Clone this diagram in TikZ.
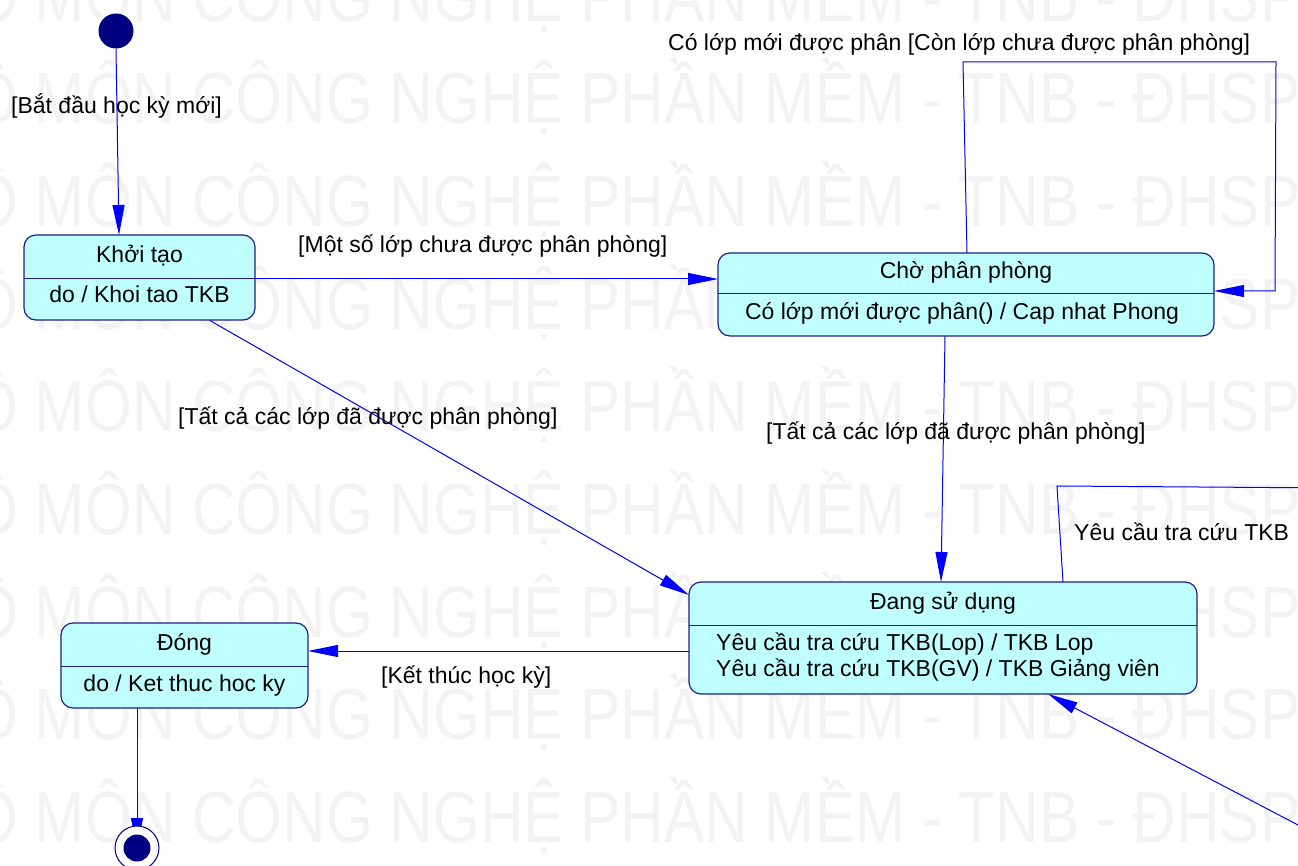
\documentclass[tikz,border=0pt]{standalone}
\usepackage{fontspec}
\setmainfont{Liberation Sans}
\usetikzlibrary{arrows.meta,calc}
\definecolor{boxfill}{RGB}{192,255,255}
\definecolor{boxline}{RGB}{30,30,140}
\definecolor{connc}{RGB}{0,0,255}
\definecolor{navyc}{RGB}{0,0,128}
\definecolor{wmark}{RGB}{243,243,243}
\pgfdeclarelayer{wm}
\pgfdeclarelayer{edges}
\pgfsetlayers{wm,edges,main}
\tikzset{
  txt/.style={inner sep=0pt, font=\fontsize{23}{27}\selectfont, text=black},
  wmtext/.style={inner sep=0pt, anchor=base west, font=\fontsize{72.6}{80}\selectfont, text=wmark},
  statebox/.style={draw=boxline, fill=boxfill, rounded corners=12pt, line width=1.2pt, inner sep=0pt, outer sep=0pt},
  divline/.style={draw=boxline, line width=1pt},
  trans/.style={draw=connc, line width=1pt, -{Triangle[length=30pt,width=12pt]}}
}
\begin{document}
\begin{tikzpicture}[x=1pt,y=-1pt]
\useasboundingbox (0,0) rectangle (1298,866);
% watermark
\begin{pgfonlayer}{wm}
\foreach \k in {0,...,8}{
  \node[wmtext] (wm\k) at (-69,{21.4+102.6*\k}) {\scalebox{0.83}[1]{BỘ MÔN CÔNG NGHỆ PHẦN MỀM - TNB - ĐHSP}};
}
\end{pgfonlayer}

% states
\node[circle, fill=navyc, minimum size=35pt, inner sep=0pt] (init) at (116,31) {};

\node[statebox, minimum width=231pt, minimum height=85pt] (khoi) at (139.5,277.5) {};
\draw[divline] ([yshift=-44pt]khoi.north west) -- ([yshift=-44pt]khoi.north east);
\node[txt, anchor=base] (khoiT) at (139.5,263) {Khởi tạo};
\node[txt, anchor=base] (khoiB) at (139.5,303) {do / Khoi tao TKB};

\node[statebox, minimum width=496pt, minimum height=83pt] (cho) at (966,294.5) {};
\draw[divline] ([yshift=-41pt]cho.north west) -- ([yshift=-41pt]cho.north east);
\node[txt, anchor=base] (choT) at (966,279) {Chờ phân phòng};
\node[txt, anchor=base] (choB) at (962,320) {Có lớp mới được phân() / Cap nhat Phong};

\node[statebox, minimum width=508pt, minimum height=112pt] (dang) at (943,638) {};
\draw[divline] ([yshift=-43pt]dang.north west) -- ([yshift=-43pt]dang.north east);
\node[txt, anchor=base] (dangT) at (943,609) {Đang sử dụng};
\node[txt, anchor=base west] (dangB1) at (716,650) {Yêu cầu tra cứu TKB(Lop) / TKB Lop};
\node[txt, anchor=base west] (dangB2) at (716,676) {Yêu cầu tra cứu TKB(GV) / TKB Giảng viên};

\node[statebox, minimum width=247pt, minimum height=85pt] (dong) at (184.5,665.5) {};
\draw[divline] ([yshift=-43pt]dong.north west) -- ([yshift=-43pt]dong.north east);
\node[txt, anchor=base] (dongT) at (184.5,650) {Đóng};
\node[txt, anchor=base] (dongB) at (184.5,691) {do / Ket thuc hoc ky};

\node[circle, draw=navyc, fill=white, line width=1pt, minimum size=44pt, inner sep=0pt] (fin) at (137,848) {};
\node[circle, fill=navyc, minimum size=27pt, inner sep=0pt] (finIn) at (fin.center) {};

% labels
\node[txt, anchor=base west] (l1) at (11,114) {[Bắt đầu học kỳ mới]};
\node[txt, anchor=base west] (l2) at (298,253) {[Một số lớp chưa được phân phòng]};
\node[txt, anchor=base west] (l3) at (668,51) {Có lớp mới được phân [Còn lớp chưa được phân phòng]};
\node[txt, anchor=base west] (l4) at (178,424) {[Tất cả các lớp đã được phân phòng]};
\node[txt, anchor=base west] (l5) at (766,439) {[Tất cả các lớp đã được phân phòng]};
\node[txt, anchor=base west] (l6) at (381,683) {[Kết thúc học kỳ]};
\node[txt, anchor=base west] (l7) at (1074,540) {Yêu cầu tra cứu TKB};

% connectors
\begin{pgfonlayer}{edges}
\draw[trans] (init.south) -- ([xshift=-20.5pt]khoi.north);
\coordinate (k1) at ([yshift=-1.5pt]khoi.east);
\draw[trans] (k1) -- (k1 -| cho.west);
\draw[trans] ([xshift=1pt]cho.north) -- (963,62) -- (1276,62) -- (1275,291) -- ([yshift=3.5pt]cho.east);
\draw[trans] ([xshift=-21pt]cho.south) -- ([xshift=-2pt]dang.north);
\draw[trans] ([xshift=69.5pt]khoi.south) -- ([yshift=-13pt]dang.north west);
\coordinate (d1) at ([yshift=-13pt]dang.west);
\draw[trans] (d1) -- (d1 -| dong.east);
\draw[trans] ([xshift=-47.5pt]dong.south) -- (fin.center);
\draw[trans] ([xshift=120pt]dang.north) -- (1057,486) -- (1340,488) -- (1340,847) -- ([xshift=105pt]dang.south);
\end{pgfonlayer}
\end{tikzpicture}
\end{document}
